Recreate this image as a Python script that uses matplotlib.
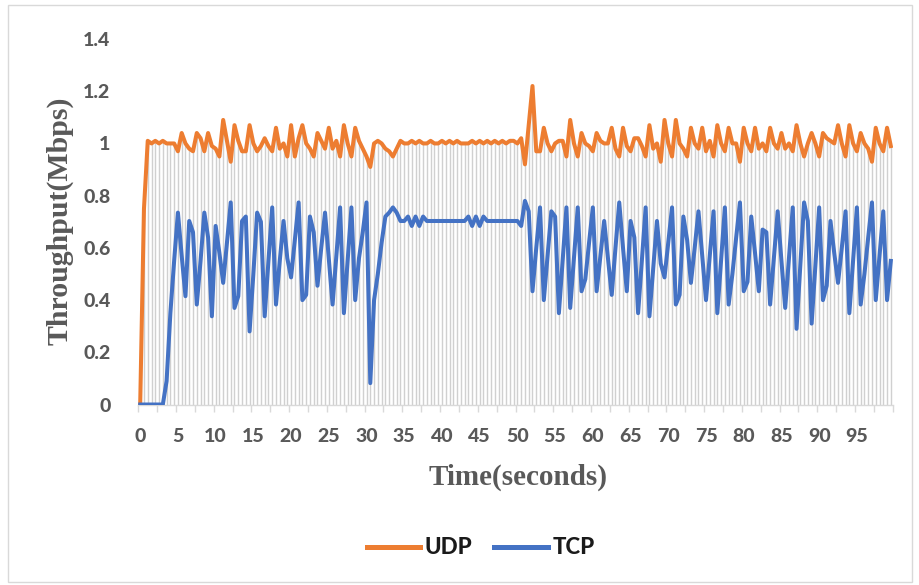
import numpy as np
import matplotlib
matplotlib.use('Agg')
import matplotlib.pyplot as plt
from matplotlib.patches import Rectangle

# time axis: one sample every 0.5 s (200 samples)
time_s = np.arange(200) * 0.5

udp = [
    0.00, 0.75, 1.01, 1.00, 1.01, 1.00, 1.01, 1.00, 1.00, 1.00,
    0.97, 1.04, 1.00, 0.98, 0.97, 1.04, 1.02, 0.97, 1.04, 0.99,
    0.98, 0.95, 1.09, 1.01, 0.93, 1.07, 1.01, 0.97, 0.97, 1.07,
    1.00, 0.97, 0.99, 1.02, 0.99, 0.97, 1.06, 0.98, 1.00, 0.95,
    1.07, 0.95, 1.02, 1.07, 1.00, 0.98, 0.95, 1.04, 1.01, 0.98,
    1.06, 0.98, 1.01, 0.95, 1.07, 1.00, 0.95, 1.06, 1.01, 0.98,
    0.95, 0.91, 1.00, 1.01, 1.00, 0.98, 0.97, 0.95, 0.98, 1.01,
    1.00, 1.00, 1.01, 1.00, 1.01, 1.00, 1.00, 1.01, 1.00, 1.00,
    1.01, 1.00, 1.01, 1.00, 1.01, 1.00, 1.00, 1.00, 1.01, 1.00,
    1.01, 1.00, 1.01, 1.00, 1.01, 1.00, 1.01, 1.00, 1.01, 1.01,
    1.00, 1.02, 0.92, 1.07, 1.22, 0.97, 0.97, 1.06, 1.00, 0.97,
    1.00, 1.01, 1.01, 0.95, 1.09, 1.00, 0.95, 1.04, 1.00, 0.99,
    0.97, 1.04, 1.01, 1.00, 1.00, 1.06, 0.98, 0.95, 1.06, 0.99,
    0.97, 1.02, 1.02, 0.99, 0.95, 1.07, 0.98, 1.00, 0.93, 1.09,
    1.00, 0.95, 1.09, 1.00, 0.98, 0.95, 1.06, 1.00, 0.98, 1.06,
    0.97, 1.01, 0.95, 1.07, 1.00, 0.97, 1.06, 1.00, 1.00, 0.93,
    1.06, 1.00, 0.97, 1.06, 0.98, 1.00, 0.97, 1.06, 1.00, 0.98,
    1.04, 0.98, 1.00, 0.97, 1.07, 1.00, 0.95, 1.00, 1.04, 1.00,
    0.95, 1.04, 1.02, 1.01, 1.00, 1.07, 1.00, 0.95, 1.07, 1.00,
    0.97, 1.04, 1.00, 0.98, 0.93, 1.06, 1.00, 0.97, 1.06, 0.99,
]

tcp = [
    0.00, 0.00, 0.00, 0.00, 0.00, 0.00, 0.00, 0.09, 0.35, 0.55,
    0.735, 0.57, 0.415, 0.703, 0.66, 0.383, 0.55, 0.735, 0.64, 0.338,
    0.684, 0.58, 0.466, 0.62, 0.774, 0.37, 0.415, 0.703, 0.72, 0.28,
    0.50, 0.735, 0.70, 0.338, 0.55, 0.755, 0.383, 0.55, 0.703, 0.56,
    0.487, 0.63, 0.774, 0.40, 0.42, 0.72, 0.66, 0.455, 0.60, 0.735,
    0.56, 0.383, 0.57, 0.755, 0.35, 0.55, 0.755, 0.40, 0.56, 0.66,
    0.774, 0.082, 0.40, 0.50, 0.62, 0.72, 0.735, 0.755, 0.735, 0.703,
    0.703, 0.72, 0.684, 0.72, 0.684, 0.72, 0.703, 0.703, 0.703, 0.703,
    0.703, 0.703, 0.703, 0.703, 0.703, 0.703, 0.703, 0.72, 0.684, 0.72,
    0.684, 0.72, 0.703, 0.703, 0.703, 0.703, 0.703, 0.703, 0.703, 0.703,
    0.703, 0.684, 0.78, 0.74, 0.434, 0.60, 0.755, 0.40, 0.57, 0.74,
    0.72, 0.35, 0.55, 0.755, 0.37, 0.56, 0.755, 0.434, 0.48, 0.62,
    0.755, 0.434, 0.57, 0.703, 0.56, 0.42, 0.60, 0.774, 0.60, 0.434,
    0.703, 0.64, 0.35, 0.55, 0.755, 0.338, 0.52, 0.703, 0.54, 0.487,
    0.62, 0.755, 0.383, 0.42, 0.72, 0.63, 0.466, 0.60, 0.74, 0.57,
    0.40, 0.57, 0.74, 0.35, 0.55, 0.755, 0.383, 0.50, 0.64, 0.774,
    0.434, 0.47, 0.72, 0.58, 0.434, 0.67, 0.66, 0.383, 0.56, 0.74,
    0.55, 0.37, 0.56, 0.755, 0.29, 0.53, 0.774, 0.703, 0.31, 0.53,
    0.755, 0.40, 0.455, 0.703, 0.58, 0.466, 0.60, 0.74, 0.35, 0.55,
    0.755, 0.383, 0.50, 0.64, 0.774, 0.40, 0.57, 0.74, 0.40, 0.55,
]

x_labels = list(range(0, 100, 5))
y_ticks = [0, 0.2, 0.4, 0.6, 0.8, 1, 1.2, 1.4]

grey = '#595959'
tick_font = dict(family='Lato', weight='black', size=14, color=grey)

fig = plt.figure(figsize=(9.19, 5.85), dpi=100)
fig.patches.append(Rectangle((8 / 919, 3 / 585), 904 / 919, 577 / 585,
                             transform=fig.transFigure, fill=False,
                             edgecolor='#d9d9d9', lw=1))

ax = fig.add_axes([0.1505, 0.3085, 0.8209, 0.6248])

# drop lines from every sample down to the axis
ax.vlines(time_s, 0, udp, color='#d0d0d0', lw=1.0, zorder=1)
ax.plot(time_s, udp, color='#ED7D31', lw=2.9, label='UDP', zorder=3,
        solid_joinstyle='round')
ax.plot(time_s, tcp, color='#4472C4', lw=2.9, label='TCP', zorder=3,
        solid_joinstyle='round')

ax.set_xlim(-0.25, 99.75)
ax.set_ylim(0, 1.4)

ax.set_xticks(x_labels)
ax.set_xticklabels([str(v) for v in x_labels], fontdict=tick_font)
ax.set_xticks(np.arange(-0.25, 100, 2.5), minor=True)
ax.tick_params(axis='x', which='major', length=0, pad=17)
ax.tick_params(axis='x', which='minor', length=5, color='#d9d9d9', width=1)

ax.set_yticks(y_ticks)
ax.set_yticklabels(['0', '0.2', '0.4', '0.6', '0.8', '1', '1.2', '1.4'],
                   fontdict=tick_font)
ax.tick_params(axis='y', length=0, pad=20)

for s in ['top', 'right', 'left']:
    ax.spines[s].set_visible(False)
ax.spines['bottom'].set_color('#d9d9d9')
ax.spines['bottom'].set_linewidth(1)

fig.text(518 / 919, 1 - 477 / 585, 'Time(seconds)', ha='center', va='center',
         family='Liberation Serif', weight='bold', size=21, color=grey)
fig.text(60 / 919, 1 - 221 / 585, 'Throughput(Mbps)', ha='center', va='center',
         rotation=90, family='Liberation Serif', weight='bold', size=21.5, color=grey)

leg = fig.legend(loc='center', bbox_to_anchor=(0.523, 1 - 548 / 585), ncol=2,
                 frameon=False, handlelength=2.4, columnspacing=1.0,
                 handletextpad=0.2,
                 prop=dict(family='Lato', weight='black', size=16))
for line in leg.get_lines():
    line.set_linewidth(3.6)
for t in leg.get_texts():
    t.set_color('#1a1a1a')

fig.savefig('out.png', dpi=100)
